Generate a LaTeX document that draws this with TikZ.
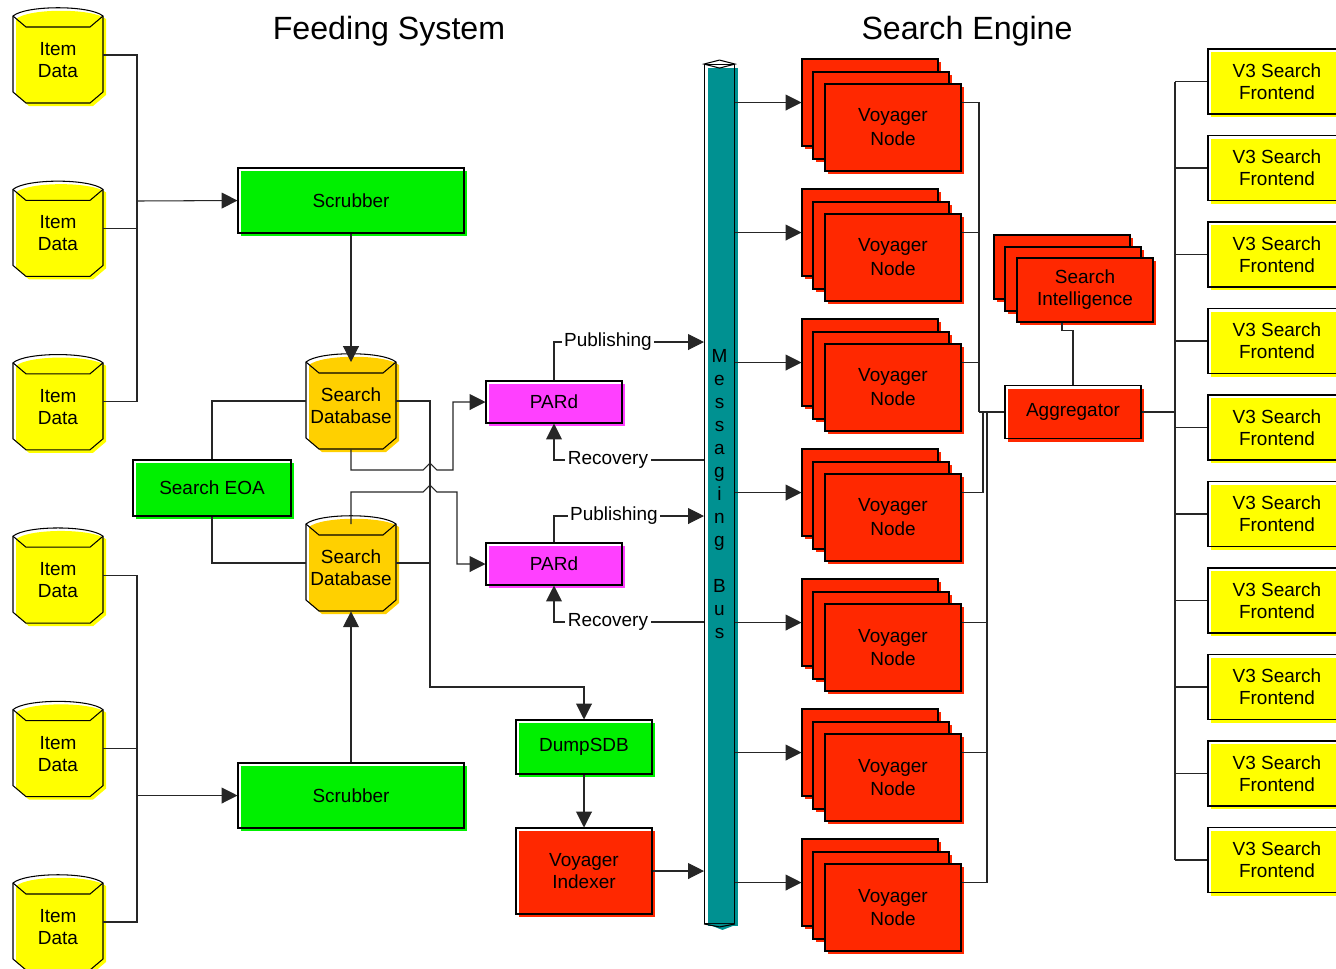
\documentclass[tikz,border=0pt]{standalone}
\usepackage{fontspec}
\setmainfont{Liberation Sans}
\usetikzlibrary{arrows.meta,shadows}

\definecolor{iyel}{RGB}{255,255,0}
\definecolor{sgreen}{RGB}{0,240,0}
\definecolor{sgold}{RGB}{255,208,0}
\definecolor{pmag}{RGB}{255,64,255}
\definecolor{vred}{RGB}{255,40,0}
\definecolor{bteal}{RGB}{0,145,145}

\tikzset{
  txt/.style={font=\fontsize{10.8}{12.5}\selectfont, align=center},
  blk/.style={draw, line width=0.6pt, inner sep=1pt, txt,
    general shadow={fill=#1, shadow xshift=0.06cm, shadow yshift=-0.06cm}},
  stk/.style={blk=#1, fill=#1},
  con/.style={draw=black!85, line width=0.6pt},
  arr/.style={con, -{Triangle[length=9pt,width=9pt]}},
  lbl/.style={fill=white, inner sep=1.5pt, txt},
  ttl/.style={font=\fontsize{18.3}{22}\selectfont}
}

% database drum: name, x, y, colour, text
\newcommand{\dbshape}[5]{%
  \begin{scope}[shift={(#2,#3)}]
    \fill[#4, shift={(3,3)}] (-45,-39) .. controls (-32,-50) and (32,-50) .. (45,-39)
      -- (45,37) -- (32,48) -- (-32,48) -- (-45,37) -- cycle;
    \draw[line width=0.6pt] (-45,-39) .. controls (-32,-50) and (32,-50) .. (45,-39)
      -- (45,37) -- (32,48) -- (-32,48) -- (-45,37) -- cycle;
    \draw[line width=0.6pt] (-45,-39) -- (-32,-28) -- (32,-28) -- (45,-39);
  \end{scope}
  \node[minimum width=1.8cm, minimum height=1.92cm, inner sep=0pt] (#1) at (#2,#3) {};
  \coordinate (#1-lid) at (#2,#3-39);
  \node[txt] (#1-t) at (#2,#3+5) {#5};
}

\begin{document}
\begin{tikzpicture}[x=0.02cm, y=-0.02cm]
\useasboundingbox (0,0) rectangle (1336,968);

\node[ttl] (ttlA) at (389,31) {Feeding System};
\node[ttl] (ttlB) at (967,31) {Search Engine};

% feeding side
\foreach \i in {1,...,6}{
  \pgfmathsetmacro{\iy}{55+(\i-1)*173.4}
  \dbshape{it\i}{58}{\iy}{iyel}{Item\\Data}
}
\node[blk=sgreen, minimum width=4.52cm, minimum height=1.3cm] (scrA) at (351,200.5) {Scrubber};
\node[blk=sgreen, minimum width=4.52cm, minimum height=1.3cm] (scrB) at (351,795.5) {Scrubber};
\dbshape{sdbA}{351}{401}{sgold}{Search\\Database}
\dbshape{sdbB}{351}{563}{sgold}{Search\\Database}
\node[blk=sgreen, minimum width=3.16cm, minimum height=1.12cm] (eoa) at (212,488) {Search EOA};
\node[blk=pmag, minimum width=2.72cm, minimum height=0.84cm] (pardA) at (554,402) {PARd};
\node[blk=pmag, minimum width=2.72cm, minimum height=0.84cm] (pardB) at (554,564) {PARd};
\node[blk=sgreen, minimum width=2.72cm, minimum height=1.08cm] (dump) at (584,747) {DumpSDB};
\node[blk=vred, minimum width=2.72cm, minimum height=1.72cm] (idx) at (584,871) {Voyager\\Indexer};

\coordinate (jl1) at (137,201);
\coordinate (jl2) at (137,795.5);
\foreach \i in {1,2,3} \draw[con] (it\i.east) -| (jl1);
\foreach \i in {4,5,6} \draw[con] (it\i.east) -| (jl2);
\draw[arr] (jl1) -- (scrA.west);
\draw[arr] (jl2) -- (scrB.west);
\draw[arr] (scrA.south) -- (sdbA-lid);
\draw[arr] (scrB.north) -- (sdbB.south);
\draw[con] (eoa.north) |- (sdbA.west);
\draw[con] (eoa.south) |- (sdbB.west);

\coordinate (dj) at (430,687);
\draw[con] (sdbB.east) -| (dj);
\draw[arr] (sdbA.east) -| (dj) -| (dump.north);
\draw[arr] (sdbA.south) |- (423,470) -- (430,463) -- (437,470) -- (453,470) |- (pardA.west);
\draw[arr] (sdbB-lid) |- (423,492) -- (430,485) -- (437,492) -- (457,492) |- (pardB.west);
\draw[arr] (dump.south) -- (idx.north);

% messaging bus
\node[draw, line width=0.6pt, minimum width=0.6cm, minimum height=17.18cm, inner sep=0pt,
  general shadow={fill=bteal, shadow xshift=0.06cm, shadow yshift=-0.06cm},
  font=\fontsize{10.8}{13.1}\selectfont, align=center] (bus) at (719.5,494)
  {M\\e\\s\\s\\a\\g\\i\\n\\g\\[13.1pt]B\\u\\s};
\draw[line width=0.6pt] (bus.north west) -- ([yshift=0.08cm]bus.north) -- (bus.north east)
  -- ([yshift=-0.08cm]bus.north) -- cycle;
\fill[bteal] ([xshift=0.06cm]bus.south west) -- ([xshift=0.06cm,yshift=-0.12cm]bus.south)
  -- ([xshift=0.06cm]bus.south east) -- cycle;
\draw[line width=0.6pt] (bus.south west) -- ([yshift=-0.06cm]bus.south) -- (bus.south east);

\draw[arr] (pardA.north) |- (bus.west |- 0,342) node[lbl, pos=0.68] {Publishing};
\draw[arr] (bus.west |- 0,460) -| (pardA.south) node[lbl, pos=0.32] {Recovery};
\draw[arr] (pardB.north) |- (bus.west |- 0,516) node[lbl, pos=0.70] {Publishing};
\draw[arr] (bus.west |- 0,622) -| (pardB.south) node[lbl, pos=0.32] {Recovery};
\draw[arr] (idx.east) -- (idx.east -| bus.west);

% search engine side
\foreach \i in {1,...,7}{
  \pgfmathsetmacro{\vy}{127.5+(\i-1)*130}
  \node[stk=vred, minimum width=2.72cm, minimum height=1.74cm] (vB\i) at (870,\vy-25) {};
  \node[stk=vred, minimum width=2.72cm, minimum height=1.74cm] (vM\i) at (881,\vy-12) {};
  \node[stk=vred, minimum width=2.72cm, minimum height=1.74cm,
    font=\fontsize{10.8}{13.6}\selectfont] (vA\i) at (893,\vy) {Voyager\\Node};
  \draw[arr] (bus.east |- vB\i.west) -- (vB\i.west);
}

\node[stk=vred, minimum width=2.72cm, minimum height=1.28cm] (siB) at (1062,267) {};
\node[stk=vred, minimum width=2.72cm, minimum height=1.28cm] (siM) at (1073,279) {};
\node[stk=vred, minimum width=2.72cm, minimum height=1.28cm] (siA) at (1085,290) {Search\\Intelligence};
\node[blk=vred, minimum width=2.72cm, minimum height=1.06cm] (agg) at (1073,412) {Aggregator};
\draw[con] ([xshift=-0.46cm]siA.south) -- ++(0,8) -| (agg.north);

\coordinate (jA) at (979,412);
\coordinate (jB) at (983,412);
\coordinate (jC) at (987,412);
\foreach \i/\j in {1/jA,2/jA,3/jA,4/jB,5/jC,6/jC,7/jC}
  \draw[con] (vA\i.east |- vB\i.west) -| (\j);
\draw[con, line width=1.2pt] (jA) -- (agg.west);

\coordinate (fej) at (1175,412);
\foreach \i in {1,...,10}{
  \pgfmathsetmacro{\fy}{81.5+(\i-1)*86.5}
  \node[blk=iyel, minimum width=2.76cm, minimum height=1.3cm] (fe\i) at (1277,\fy) {V3 Search\\Frontend};
  \draw[con] (fe\i.west -| fej) -- (fe\i.west);
}
\draw[con] (fe1.west -| fej) -- (fe10.west -| fej);
\draw[con, line width=1.2pt] (agg.east) -- (fej);
\end{tikzpicture}
\end{document}
